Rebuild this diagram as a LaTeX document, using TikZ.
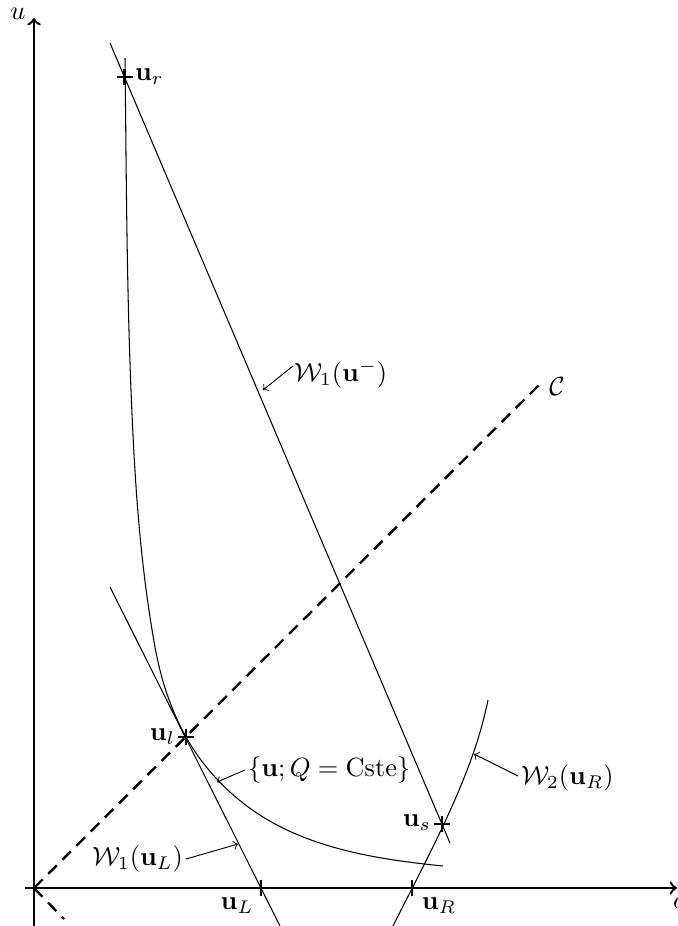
\documentclass[tikz,border=0pt]{standalone}
\usetikzlibrary{calc}
\begin{document}
\begin{tikzpicture}[x=0.38pt,y=-0.38pt,
  axis/.style={line width=0.9pt,->},
  curve/.style={line width=0.4pt},
  dashline/.style={line width=0.9pt,dash pattern=on 4.6pt off 3pt},
  crossmark/.style={line width=0.9pt},
  note/.style={line width=0.35pt,->},
  lbl/.style={inner sep=1pt}]
\useasboundingbox (0,0) rectangle (678,926);
% named points
\coordinate (O) at (34,888);
\coordinate (ur) at (124.5,77);
\coordinate (ul) at (186,737);
\coordinate (us) at (442,824);
\coordinate (uL) at (261,888);
\coordinate (uR) at (412,888);
\coordinate (utop) at (34,18);
\coordinate (ubot) at (34,930);
\coordinate (cleft) at (25,888);
\coordinate (cright) at (677,888);
% axes
\draw[axis] (ubot) -- (utop);
\draw[axis] (cleft) -- (cright);
\node[lbl] (ulab) at (18,14) {$u$};
\node[lbl,anchor=west] (clab) at (670,903) {$c$};
% dashed line C
\coordinate (Cend) at (543,381);
\coordinate (Dend) at (64,919);
\draw[dashline] (O) -- (Cend);
\draw[dashline] (O) -- (Dend);
\node[lbl] (Clab) at (557,387) {$\mathcal{C}$};
% W1(u^-) straight line
\coordinate (wa) at (110,43);
\coordinate (wb) at (450,843);
\draw[curve] (wa) -- (wb);
% W1(u_L) line
\coordinate (la) at (110,587);
\coordinate (lb) at (281,928);
\draw[curve] (la) -- (lb);
% W2(u_R) curve
\coordinate (w2a) at (488,700);
\coordinate (w2b) at (392,928);
\draw[curve] (w2a) .. controls (472.8,776) and (430,852) .. (w2b);
% Q = Cste curve
\coordinate (qa) at (125,58);
\coordinate (qb) at (443,866);
\draw[curve] (qa) .. controls (126.3,168) and (126.6,280) .. (131,390)
  .. controls (134.4,476) and (139.5,561) .. (155,647)
  .. controls (160.7,678.5) and (170.4,709.1) .. (ul)
  .. controls (204,769.3) and (231.6,797.5) .. (263,817)
  .. controls (315.7,849.7) and (381.3,859.8) .. (qb);
% crosses
\foreach \p in {ur,ul,us}{
  \draw[crossmark] ($(\p)+(-8,0)$) -- ($(\p)+(8,0)$);
  \draw[crossmark] ($(\p)+(0,-8)$) -- ($(\p)+(0,8)$);
}
\foreach \p in {uL,uR}{
  \draw[crossmark] ($(\p)+(0,-8)$) -- ($(\p)+(0,8)$);
}
% point labels
\node[lbl,anchor=west] (urlab) at (132,77) {$\mathbf{u}_r$};
\node[lbl,anchor=east] (ullab) at (178,737) {$\mathbf{u}_l$};
\node[lbl,anchor=east] (uslab) at (434,823) {$\mathbf{u}_s$};
\node[lbl] (uLlab) at (237,906) {$\mathbf{u}_L$};
\node[lbl] (uRlab) at (439,906) {$\mathbf{u}_R$};
% annotation labels and arrows
\node[lbl,anchor=west] (w1m) at (291,374) {$\mathcal{W}_1(\mathbf{u}^{-})$};
\coordinate (w1mt) at (263,390);
\draw[note] (w1m.west) ++(2,-8) -- (w1mt);
\node[lbl,anchor=west] (qlab) at (245,770) {$\{\mathbf{u};Q=\mathrm{Cste}\}$};
\coordinate (qt) at (217,782);
\draw[note] (qlab.west) -- (qt);
\node[lbl,anchor=west] (w2lab) at (518,778) {$\mathcal{W}_2(\mathbf{u}_R)$};
\coordinate (w2t) at (474,754);
\draw[note] (w2lab.west) ++(0,-2) -- (w2t);
\node[lbl,anchor=east] (w1Llab) at (186,859) {$\mathcal{W}_1(\mathbf{u}_L)$};
\coordinate (w1Lt) at (238,844);
\draw[note] (w1Llab.east) -- (w1Lt);
\end{tikzpicture}
\end{document}
